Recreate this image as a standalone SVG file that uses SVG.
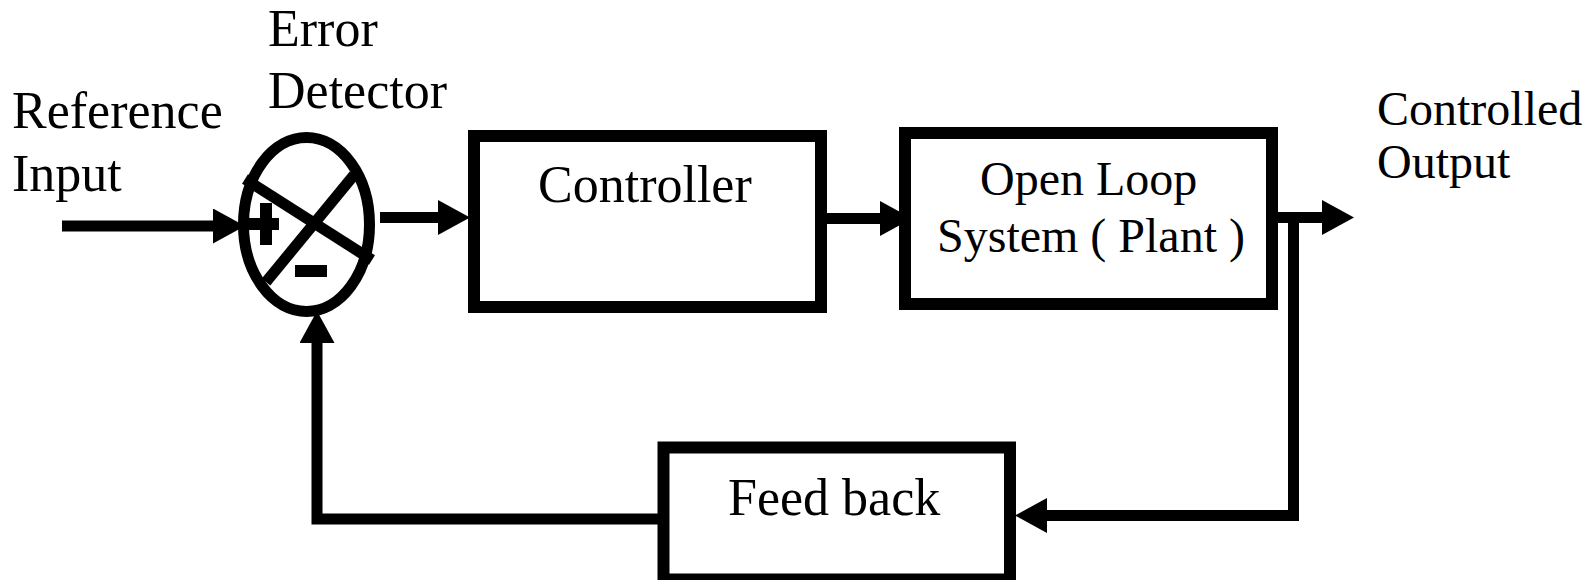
<svg xmlns="http://www.w3.org/2000/svg" width="1593" height="580" viewBox="0 0 1593 580">
<style>
  .box { fill: #fff; stroke: #000; stroke-width: 12; }
  .ln { fill: none; stroke: #000; stroke-width: 11; }
  .conn { fill: none; stroke: #000; stroke-width: 11; marker-end: url(#arr); }
  .t { font-family: "Liberation Serif", "Times New Roman", serif; fill: #000; }
  .t52 { font-size: 52px; }
  .t48 { font-size: 48px; }
</style>
<defs>
  <marker id="arr" markerUnits="userSpaceOnUse" viewBox="0 0 32 35" refX="0" refY="17.5" markerWidth="32" markerHeight="35" orient="auto">
    <path d="M0,0 L32,17.5 L0,35 Z" fill="#000"/>
  </marker>
</defs>
<rect width="1593" height="580" fill="#fff"/>

<g id="labels">
  <text class="t t52" x="268" y="46">Error</text>
  <text class="t t52" x="268" y="108">Detector</text>
  <text class="t t52" x="12" y="128">Reference</text>
  <text class="t t52" x="12" y="191">Input</text>
  <text class="t t48" x="1377" y="125">Controlled</text>
  <text class="t t48" x="1377" y="178">Output</text>
</g>

<g id="connectors">
  <line class="conn" x1="62" y1="226" x2="213" y2="226"/>
  <line class="conn" x1="380" y1="217.5" x2="438" y2="217.5"/>
  <line class="conn" x1="827" y1="218.5" x2="880" y2="218.5"/>
  <line class="conn" x1="1263" y1="217.5" x2="1322" y2="217.5"/>
  <path class="conn" d="M1293.5,217 V515.5 H1047"/>
  <path class="conn" d="M658,519 H317 V343"/>
</g>

<g id="error-detector">
  <ellipse cx="306.5" cy="224.5" rx="63" ry="87" fill="none" stroke="#000" stroke-width="11"/>
  <line class="ln" x1="245" y1="179" x2="372" y2="260" stroke-width="12"/>
  <line class="ln" x1="354" y1="175" x2="266" y2="282" stroke-width="12"/>
  <rect x="260" y="203" width="12" height="42" fill="#000"/>
  <rect x="248" y="218" width="31" height="12" fill="#000"/>
  <rect x="295" y="265" width="32" height="12" fill="#000"/>
</g>

<g id="controller">
  <rect class="box" x="474" y="136" width="347" height="171"/>
  <text class="t t52" x="538" y="202">Controller</text>
</g>

<g id="plant">
  <rect class="box" x="905" y="133" width="367" height="171"/>
  <text class="t t48" x="980" y="195">Open Loop</text>
  <text class="t t48" x="937" y="252">System ( Plant )</text>
</g>

<g id="feedback">
  <rect class="box" x="663.5" y="447.5" width="346.5" height="132"/>
  <text class="t t52" x="728" y="515">Feed back</text>
</g>
</svg>
